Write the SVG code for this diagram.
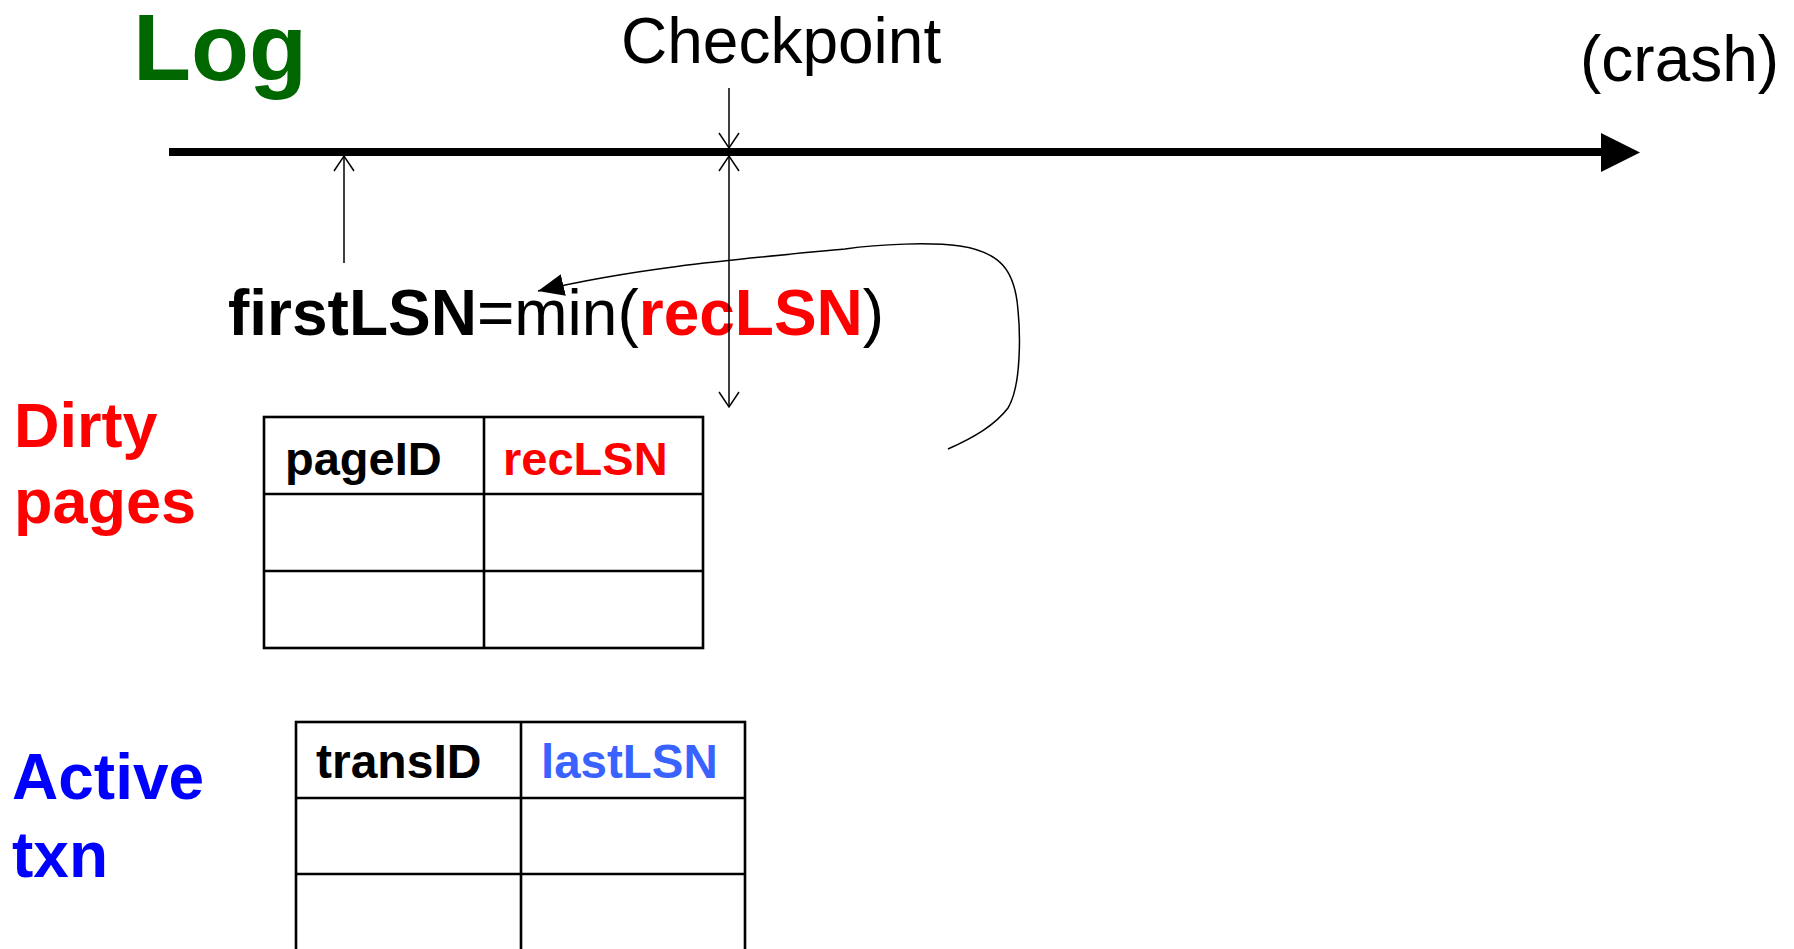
<svg xmlns="http://www.w3.org/2000/svg" width="1794" height="949" viewBox="0 0 1794 949">
<style>
text{font-family:"Liberation Sans",Arial,sans-serif}
.b{font-weight:bold}
.red{fill:#ff0000}
.blue{fill:#0000ff}
.lblue{fill:#3a62ff}
.thin{stroke:#000;stroke-width:1.5;fill:none}
.tbl{stroke:#000;stroke-width:2.6;fill:none}
</style>
<defs>
<marker id="vee" viewBox="0 0 18 22" refX="16" refY="11" markerWidth="18" markerHeight="22" markerUnits="userSpaceOnUse" orient="auto">
<path d="M1,1 L16,11 L1,21" fill="none" stroke="#000" stroke-width="1.5"/>
</marker>
<marker id="veeS" viewBox="0 0 18 22" refX="2" refY="11" markerWidth="18" markerHeight="22" markerUnits="userSpaceOnUse" orient="auto">
<path d="M17,1 L2,11 L17,21" fill="none" stroke="#000" stroke-width="1.5"/>
</marker>
<marker id="tri" viewBox="0 0 26 22" refX="26" refY="11" markerWidth="26" markerHeight="22" markerUnits="userSpaceOnUse" orient="auto">
<path d="M0,0 L26,11 L0,22 z" fill="#000"/>
</marker>
</defs>

<g id="title-log"><text x="133" y="80" class="b" font-size="95" fill="#006600">Log</text></g>
<g id="checkpoint-label"><text x="621" y="63" font-size="64" fill="#000">Checkpoint</text></g>
<g id="crash-label"><text x="1580" y="81" font-size="64" fill="#000">(crash)</text></g>

<g id="log-axis">
<line x1="169" y1="152" x2="1603" y2="152" stroke="#000" stroke-width="8"/>
<polygon points="1601,133 1640,152.5 1601,172" fill="#000"/>
</g>

<g id="formula"><text x="228" y="335" font-size="64" fill="#000"><tspan class="b">firstLSN</tspan><tspan>=min(</tspan><tspan class="b red">recLSN</tspan><tspan>)</tspan></text></g>

<g id="dirty-pages-label"><text x="14" y="447" class="b red" font-size="63">Dirty</text><text x="14" y="523" class="b red" font-size="63">pages</text></g>

<g id="dirty-pages-table">
<rect x="264" y="417" width="439" height="231" class="tbl"/>
<line x1="484" y1="417" x2="484" y2="648" class="tbl"/>
<line x1="264" y1="494" x2="703" y2="494" class="tbl"/>
<line x1="264" y1="571" x2="703" y2="571" class="tbl"/>
<text x="285" y="475" class="b" font-size="47" fill="#000">pageID</text>
<text x="503" y="475" class="b red" font-size="47">recLSN</text>
</g>

<g id="active-txn-label"><text x="12" y="799" class="b blue" font-size="64">Active</text><text x="12" y="877" class="b blue" font-size="64">txn</text></g>

<g id="active-txn-table">
<rect x="296" y="722" width="449" height="230" class="tbl"/>
<line x1="521" y1="722" x2="521" y2="952" class="tbl"/>
<line x1="296" y1="798" x2="745" y2="798" class="tbl"/>
<line x1="296" y1="874" x2="745" y2="874" class="tbl"/>
<text x="316" y="778" class="b" font-size="48" fill="#000">transID</text>
<text x="541" y="778" class="b lblue" font-size="47.5">lastLSN</text>
</g>

<g id="connectors">
<line x1="729" y1="88" x2="729" y2="148" class="thin" marker-end="url(#vee)"/>
<line x1="729" y1="156" x2="729" y2="407" class="thin" marker-start="url(#veeS)" marker-end="url(#vee)"/>
<line x1="344" y1="263" x2="344" y2="156" class="thin" marker-end="url(#vee)"/>
<path d="M948,449 C975,437 995,425 1008,408 C1022,385 1020,330 1018,310 C1015,270 1000,252 960,246 C930,242 880,244 845,249 C740,259 640,267 538,291" class="thin" marker-end="url(#tri)"/>
</g>
</svg>
